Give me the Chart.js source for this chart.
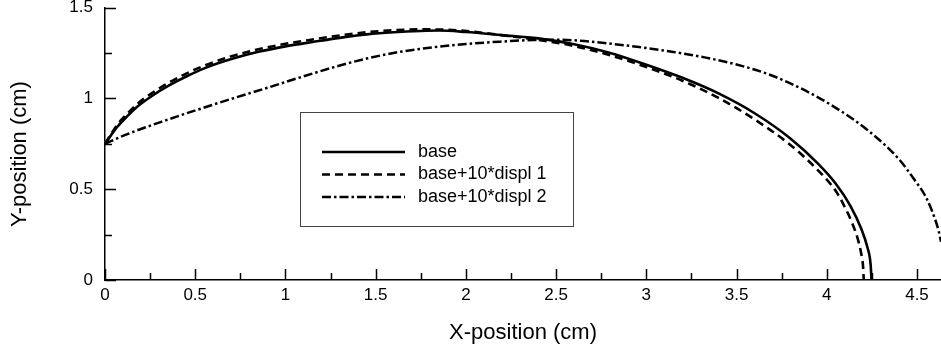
<!DOCTYPE html>
<html>
<head>
<meta charset="utf-8">
<script src="https://cdn.jsdelivr.net/npm/chart.js@4.4.0/dist/chart.umd.min.js"></script>
<style>
  html, body { margin: 0; padding: 0; background: #fff; }
</style>
</head>
<body>
<canvas id="chart" width="941" height="356"></canvas>
<script>
// ── datos ──
const baseX = [0, 0.03, 0.07, 0.12, 0.18, 0.26, 0.35, 0.45, 0.55, 0.7, 0.85, 1.0, 1.15, 1.3, 1.45, 1.6, 1.75, 1.85, 2.0, 2.2, 2.4, 2.6, 2.8, 3.0, 3.2, 3.4, 3.6, 3.8, 3.95, 4.05, 4.13, 4.19, 4.225, 4.243, 4.248];
const baseY = [0.75, 0.792, 0.845, 0.898, 0.955, 1.013, 1.068, 1.12, 1.165, 1.216, 1.256, 1.286, 1.31, 1.333, 1.352, 1.364, 1.371, 1.373, 1.365, 1.348, 1.33, 1.298, 1.25, 1.185, 1.113, 1.027, 0.918, 0.778, 0.642, 0.53, 0.41, 0.285, 0.18, 0.085, 0];

const displ1X = [0, 0.03, 0.07, 0.12, 0.18, 0.26, 0.35, 0.45, 0.55, 0.7, 0.85, 1.0, 1.15, 1.3, 1.45, 1.6, 1.75, 1.9, 2.05, 2.2, 2.4, 2.6, 2.8, 3.0, 3.2, 3.4, 3.6, 3.8, 3.95, 4.05, 4.093, 4.14, 4.172, 4.19, 4.201, 4.205];
const displ1Y = [0.75, 0.798, 0.857, 0.912, 0.97, 1.029, 1.084, 1.136, 1.18, 1.231, 1.27, 1.3, 1.324, 1.346, 1.364, 1.375, 1.38, 1.377, 1.366, 1.347, 1.322, 1.288, 1.237, 1.172, 1.097, 1.002, 0.884, 0.742, 0.605, 0.49, 0.415, 0.315, 0.225, 0.15, 0.075, 0];

const displ2X = [0, 0.08, 0.16, 0.34, 0.53, 0.71, 0.9, 1.08, 1.27, 1.45, 1.63, 1.82, 2.0, 2.19, 2.37, 2.5, 2.62, 2.78, 2.96, 3.15, 3.33, 3.5, 3.67, 3.85, 4.03, 4.22, 4.4, 4.48, 4.55, 4.6, 4.62, 4.633];
const displ2Y = [0.75, 0.785, 0.817, 0.88, 0.943, 1.0, 1.058, 1.115, 1.172, 1.219, 1.255, 1.281, 1.299, 1.312, 1.321, 1.323, 1.318, 1.303, 1.282, 1.255, 1.224, 1.186, 1.135, 1.058, 0.96, 0.83, 0.665, 0.56, 0.455, 0.335, 0.27, 0.21];

const seriesNames = ['base', 'base+10*displ 1', 'base+10*displ 2'];
const xTickLabels = ['0', '0.5', '1', '1.5', '2', '2.5', '3', '3.5', '4', '4.5'];
const yTickLabels = ['0', '0.5', '1', '1.5'];
const xTitle = 'X-position (cm)';
const yTitle = 'Y-position (cm)';

const FONT = '"Liberation Sans", Arial, Helvetica, sans-serif';

// ── helpers ──
function pts(xs, ys) {
    return xs.map((x, i) => ({ x: x, y: ys[i] }));
}

function labelFor(list, v) {
    const hit = list.find(s => Math.abs(parseFloat(s) - v) < 1e-6);
    return hit === undefined ? '' : hit;
}

// marcas de eje hacia dentro (mayores con etiqueta, menores sin ella)
const inwardTicks = {
    id: 'inwardTicks',
    afterDraw(chart) {
        const { ctx, chartArea: a, scales: { x, y } } = chart;
        ctx.save();
        ctx.strokeStyle = '#000';
        ctx.lineWidth = 1.5;
        ctx.beginPath();
        x.ticks.forEach(t => {
            const px = Math.round(x.getPixelForValue(t.value)) + 0.5;
            ctx.moveTo(px, a.bottom);
            ctx.lineTo(px, a.bottom - (t.label ? 11 : 7));
        });
        y.ticks.forEach(t => {
            const py = Math.round(y.getPixelForValue(t.value)) + 0.5;
            ctx.moveTo(a.left, py);
            ctx.lineTo(a.left + (t.label ? 11 : 7), py);
        });
        ctx.stroke();
        ctx.restore();
    }
};

// título del eje Y (un poco por debajo del centro, como en el original)
const yAxisTitle = {
    id: 'yAxisTitle',
    afterDraw(chart) {
        const ctx = chart.ctx;
        ctx.save();
        ctx.translate(20, 154);
        ctx.rotate(-Math.PI / 2);
        ctx.font = '22px ' + FONT;
        ctx.fillStyle = '#000';
        ctx.textAlign = 'center';
        ctx.textBaseline = 'middle';
        ctx.fillText(yTitle, 0, 0);
        ctx.restore();
    }
};

// leyenda en recuadro dentro del área de trazado
const boxLegend = {
    id: 'boxLegend',
    afterDraw(chart) {
        const ctx = chart.ctx;
        const bx = 300, by = 112, bw = 273, bh = 114;
        ctx.save();
        ctx.fillStyle = '#fff';
        ctx.fillRect(bx, by, bw, bh);
        ctx.strokeStyle = '#444';
        ctx.lineWidth = 1;
        ctx.strokeRect(bx + 0.5, by + 0.5, bw, bh);
        ctx.font = '18px ' + FONT;
        ctx.textBaseline = 'middle';
        chart.data.datasets.forEach((ds, i) => {
            const ly = 152 + i * 22.5;
            ctx.strokeStyle = ds.borderColor;
            ctx.lineWidth = ds.borderWidth;
            ctx.setLineDash(ds.borderDash || []);
            ctx.beginPath();
            ctx.moveTo(322, ly);
            ctx.lineTo(405, ly);
            ctx.stroke();
            ctx.setLineDash([]);
            ctx.fillStyle = '#000';
            ctx.fillText(ds.label, 418, ly);
        });
        ctx.restore();
    }
};

const lineCommon = {
    showLine: true,
    pointRadius: 0,
    borderColor: '#000',
    tension: 0.4,
    cubicInterpolationMode: 'monotone',
    fill: false
};

new Chart(document.getElementById('chart').getContext('2d'), {
    type: 'scatter',
    data: {
        datasets: [
            { ...lineCommon, label: seriesNames[0], data: pts(baseX, baseY), borderWidth: 2.6 },
            { ...lineCommon, label: seriesNames[1], data: pts(displ1X, displ1Y), borderWidth: 2.6, borderDash: [8, 5] },
            { ...lineCommon, label: seriesNames[2], data: pts(displ2X, displ2Y), borderWidth: 2.5, borderDash: [9, 3, 2.5, 3] }
        ]
    },
    options: {
        responsive: false,
        animation: false,
        devicePixelRatio: 1,
        layout: { padding: 0 },
        plugins: { legend: { display: false }, tooltip: { enabled: false } },
        scales: {
            x: {
                type: 'linear',
                min: 0,
                max: 4.633,
                grid: { display: false, drawTicks: false },
                border: { display: true, color: '#000', width: 1.5 },
                ticks: {
                    stepSize: 0.25,
                    includeBounds: false,
                    autoSkip: false,
                    maxRotation: 0,
                    padding: 5,
                    color: '#000',
                    font: { family: FONT, size: 17 },
                    callback: v => labelFor(xTickLabels, v)
                },
                title: {
                    display: true,
                    text: xTitle,
                    color: '#000',
                    font: { family: FONT, size: 22 },
                    padding: { top: 0, bottom: 10 }
                },
                afterFit: s => { s.height = 76; s.paddingLeft = 0; s.paddingRight = 0; }
            },
            y: {
                type: 'linear',
                min: 0,
                max: 1.5,
                grid: { display: false, drawTicks: false },
                border: { display: true, color: '#000', width: 1.5 },
                ticks: {
                    stepSize: 0.25,
                    includeBounds: false,
                    autoSkip: false,
                    padding: 12,
                    color: '#000',
                    font: { family: FONT, size: 17 },
                    callback: v => labelFor(yTickLabels, v)
                },
                afterFit: s => { s.width = 105; s.paddingTop = 7.5; s.paddingBottom = 0; }
            }
        }
    },
    plugins: [inwardTicks, yAxisTitle, boxLegend]
});
</script>
</body>
</html>
